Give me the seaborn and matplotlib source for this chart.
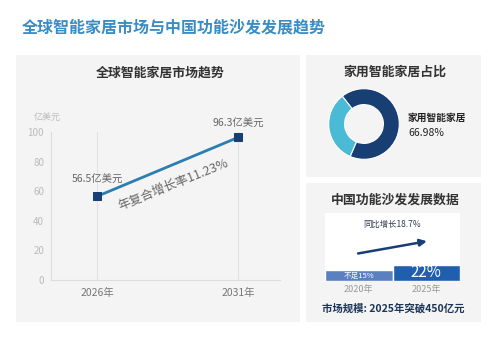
import pandas as pd
import matplotlib.pyplot as plt
import seaborn as sns
from matplotlib.patches import Rectangle

# Data
years = ['2026年', '2031年']
market = [56.5, 96.3]
market_labels = ['56.5亿美元', '96.3亿美元']
cagr_text = '年复合增长率11.23%'

share_names = ['家用智能家居', '其他']
share_values = [66.98, 33.02]

sofa_years = ['2020年', '2025年']
sofa_values = [15, 22]
sofa_labels = ['不足15%', '22%']
yoy_text = '同比增长18.7%'
scale_text = '市场规模: 2025年突破450亿元'

sns.set_style('white')
plt.rcParams['font.family'] = ['Noto Sans CJK SC', 'DejaVu Sans']

W, H = 500, 344
fig = plt.figure(figsize=(5, 3.44), dpi=100)
fig.patch.set_facecolor('white')


def box(x0, y0, x1, y1):
    # pixel box (top-left origin) -> figure fraction
    return [x0 / W, 1 - y1 / H, (x1 - x0) / W, (y1 - y0) / H]


panel_color = '#f4f4f4'
for x0, y0, x1, y1 in [(16, 55, 300, 322), (306, 55, 481, 177), (306, 183, 481, 322)]:
    l, b, w, h = box(x0, y0, x1, y1)
    fig.patches.append(Rectangle((l, b), w, h, transform=fig.transFigure,
                                 facecolor=panel_color, edgecolor='none', zorder=-10))

fig.text(22 / W, 1 - 27 / H, '全球智能家居市场与中国功能沙发发展趋势', fontsize=11.5,
         fontweight='bold', color='#3a8cc4', va='center', ha='left')

# Left: market trend
fig.text(160 / W, 1 - 73 / H, '全球智能家居市场趋势', fontsize=9.3, fontweight='bold',
         color='#333333', ha='center', va='center')
ax = fig.add_axes(box(51, 132, 280, 280))
ax.set_facecolor(panel_color)
df = pd.DataFrame({'year': [0, 1], 'value': market})
sns.lineplot(data=df, x='year', y='value', ax=ax, color='#2a7fb0', linewidth=2,
             marker='s', markersize=5.5, markerfacecolor='#173f73',
             markeredgecolor='#173f73', zorder=3)
ax.set_xlim(-0.326, 1.298)
ax.set_ylim(0, 100)
ax.set_xticks([0, 1])
ax.set_xticklabels(years, fontsize=7.5, color='#777777')
ax.set_yticks(range(0, 101, 20))
ax.tick_params(axis='y', direction='in', length=7, color='#dddddd', labelsize=7,
               labelcolor='#bbbbbb', pad=5)
ax.tick_params(axis='x', length=0, pad=6)
ax.grid(axis='x', color='#e2e2e2', linewidth=0.8)
ax.set_axisbelow(True)
ax.set_xlabel('')
ax.set_ylabel('')
for s in ['top', 'right']:
    ax.spines[s].set_visible(False)
for s in ['left', 'bottom']:
    ax.spines[s].set_color('#dddddd')
ax.text(-0.45, 110, '亿美元', fontsize=6.5, color='#bbbbbb', ha='left', va='center')
ax.text(0, 67.5, market_labels[0], fontsize=7.5, color='#666666', ha='center', va='center')
ax.text(1, 105.5, market_labels[1], fontsize=7.5, color='#666666', ha='center', va='center')
ax.text(0.54, 64.5, cagr_text, fontsize=9, color='#666666', rotation=22,
        rotation_mode='anchor', ha='center', va='center')

# Right top: donut
fig.text(395 / W, 1 - 72 / H, '家用智能家居占比', fontsize=9.3, fontweight='bold',
         color='#333333', ha='center', va='center')
ax2 = fig.add_axes(box(328, 88, 400, 160))
ax2.pie(share_values, colors=['#173f73', '#4bbad6'], startangle=128, counterclock=False,
        wedgeprops=dict(width=0.45, edgecolor='white', linewidth=0.8))
ax2.set_xlim(-1.02, 1.02)
ax2.set_ylim(-1.02, 1.02)
ax2.set_aspect('equal')
ax2.axis('off')
fig.text(408 / W, 1 - 118 / H, share_names[0], fontsize=7, fontweight='bold',
         color='#222222', ha='left', va='center')
fig.text(408 / W, 1 - 133 / H, f'{share_values[0]:.2f}%', fontsize=7.5,
         color='#222222', ha='left', va='center')

# Right bottom: sofa data
fig.text(395 / W, 1 - 200 / H, '中国功能沙发发展数据', fontsize=9.3, fontweight='bold',
         color='#333333', ha='center', va='center')
ax3 = fig.add_axes(box(325, 213, 460, 281))
ax3.set_facecolor('white')
sdf = pd.DataFrame({'year': sofa_years, 'value': sofa_values})
sns.barplot(data=sdf, x='year', y='value', ax=ax3, hue='year',
            palette=['#5a80c0', '#1f5fae'], width=1.0, legend=False, saturation=1)
ax3.set_xlim(-0.5, 1.5)
ax3.set_ylim(0, 93)
ax3.set_xlabel('')
ax3.set_ylabel('')
ax3.set_yticks([])
ax3.tick_params(axis='x', length=0, labelsize=6.5, labelcolor='#999999', pad=3)
sns.despine(ax=ax3, left=True, bottom=True)
ax3.text(0, sofa_values[0] / 2, sofa_labels[0], fontsize=5.5, color='white',
         ha='center', va='center')
ax3.text(1, sofa_values[1] / 2, sofa_labels[1], fontsize=11, color='white',
         ha='center', va='center')
ax3.annotate('', xy=(1.05, 55), xytext=(-0.05, 37),
             arrowprops=dict(arrowstyle='-|>', color='#173f73', lw=1.8,
                             mutation_scale=10))
ax3.text(0.5, 77, yoy_text, fontsize=6, color='#333a55', ha='center', va='center')
fig.text(393 / W, 1 - 308 / H, scale_text, fontsize=7.5, fontweight='bold',
         color='#1d3557', ha='center', va='center')

plt.savefig('out.png', dpi=100)
plt.close()
